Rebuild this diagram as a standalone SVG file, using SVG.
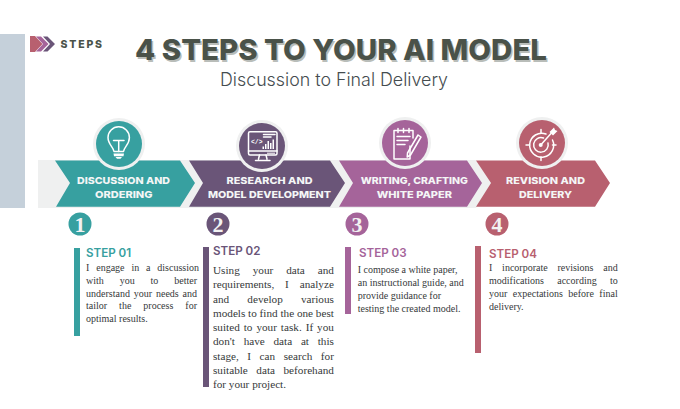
<svg xmlns="http://www.w3.org/2000/svg" width="680" height="409" viewBox="0 0 680 409">
  <style>
    .body { font-family: "Liberation Serif", "Times New Roman", serif; fill: #36393a; font-size: 10px; }
    .big { font-size: 11.2px; }
    .head { font-family: Inter, "Liberation Sans", sans-serif; font-weight: 600; font-size: 11.6px; }
    .band { font-family: Inter, "Liberation Sans", sans-serif; font-weight: 800; font-size: 9.6px; fill: #f4f6f6; }
    .num { font-family: "Liberation Serif", serif; font-weight: 700; font-size: 22px; fill: #f2f2f2; text-anchor: middle; }
    .icon { fill: none; stroke: #fff; stroke-width: 1.5; stroke-linecap: round; stroke-linejoin: round; }
    .halo { fill: #eff0f0; }
    .teal { fill: #37a0a0; } .plum { fill: #6a5578; } .mauve { fill: #a5649a; } .rose { fill: #b8606f; }
  </style>

  <!-- side panel and band backing -->
  <rect x="0" y="34" width="25" height="174" fill="#c5d0da"/>
  <polygon points="38,160 476,160 491,183 476,208 38,208" fill="#eff0f0"/>

  <!-- brand mark -->
  <g id="brand">
    <path d="M30 36 L35 36 L42.500 44 L35 52 L30 52 L30 36 Z" class="rose"/>
    <path d="M36 36.500 L41 36.500 L48.500 44 L41 51.500 L36 51.500 L43 44 Z" class="mauve"/>
    <path d="M43 36.500 L47.500 36.500 L55 44 L47.500 51.500 L43 51.500 L50 44 Z" class="plum"/>
    <text x="60.500" y="47.500" font-family="Inter, 'Liberation Sans', sans-serif" font-weight="800" font-size="10.500" fill="#4a5249" textLength="41.500">STEPS</text>
  </g>

  <!-- heading -->
  <g id="title" font-family="Inter, 'Liberation Sans', sans-serif">
    <text x="136.500" y="61.500" font-weight="800" font-size="28.600" fill="#b9bdb9" textLength="412" lengthAdjust="spacingAndGlyphs">4 STEPS TO YOUR AI MODEL</text>
    <text x="135" y="60" font-weight="800" font-size="28.600" fill="#4a5249" textLength="412" lengthAdjust="spacingAndGlyphs">4 STEPS TO YOUR AI MODEL</text>
    <text x="220" y="85.500" font-size="18" font-weight="300" fill="#454c4f" textLength="228" lengthAdjust="spacingAndGlyphs">Discussion to Final Delivery</text>
  </g>

  <!-- step 1 -->
  <g id="step-1">
    <polygon class="teal" points="55,160.500 180,160.500 195,183 180,206.700 56,206.700 70,183"/>
    <circle class="halo" cx="119" cy="144" r="26"/>
    <circle class="teal" cx="119" cy="144" r="23"/>
    <path class="icon" d="M114 151.500 C113.500 147 108 144.500 108 137.500 A10.700 10.700 0 0 1 129.400 137.500 C129.400 144.500 124 147 123.500 151.500 Z"/>
    <path class="icon" d="M113.500 140.500 H124 M118.700 140.500 V151.500"/>
    <path d="M113.500 153.500 H124 L123.500 156.300 H114 Z M115.500 157 H122 L120.500 158.800 H117 Z" fill="#fff"/>
    <text class="band" x="77" y="184" textLength="93" lengthAdjust="spacingAndGlyphs">DISCUSSION AND</text>
    <text class="band" x="95" y="198" textLength="57.500" lengthAdjust="spacingAndGlyphs">ORDERING</text>
    <circle class="teal" cx="80" cy="224" r="11.500"/>
    <text class="num" x="80" y="231.500">1</text>
    <rect class="teal" x="74" y="248" width="6" height="88"/>
    <text class="head" x="86" y="256.500" fill="#37a0a0">STEP 01</text>
    <text class="body" x="86" y="271" word-spacing="4.370">I engage in a discussion</text>
    <text class="body" x="86" y="283.800" word-spacing="13.400">with you to better</text>
    <text class="body" x="86" y="296.700" word-spacing="1.370">understand your needs and</text>
    <text class="body" x="86" y="309.400" word-spacing="9.500">tailor the process for</text>
    <text class="body" x="86" y="322.200">optimal results.</text>
  </g>

  <!-- step 2 -->
  <g id="step-2">
    <polygon class="plum" points="189,160.500 330,160.500 345,183 330,206.700 189,206.700 203,183"/>
    <circle class="halo" cx="262" cy="146" r="26"/>
    <circle class="plum" cx="262" cy="146" r="23"/>
    <rect class="icon" x="248.500" y="131.700" width="28.500" height="23.300" rx="1.500"/>
    <path class="icon" d="M248.500 151 H277 M259.500 155 L258.500 159 M266 155 L267 159 M255.500 160.500 H270"/>
    <text x="251" y="143.500" font-family="Liberation Mono, monospace" font-weight="700" font-size="6.400" fill="#fff">&lt;/&gt;</text>
    <path class="icon" stroke-width="1" d="M263.500 134.500 H275 M263.500 137 H271"/>
    <path fill="#fff" d="M262.500 149 V146.500 H264 V149 Z M265 149 V144 H266.500 V149 Z M267.500 149 V141 H269 V149 Z M270 149 V143 H271.500 V149 Z M272.500 149 V139.500 H274 V149 Z"/>
    <path fill="#fff" d="M267 152.700 h8 v1 h-8 Z"/>
    <text class="band" x="226.500" y="184" textLength="86" lengthAdjust="spacingAndGlyphs">RESEARCH AND</text>
    <text class="band" x="208" y="198" textLength="123" lengthAdjust="spacingAndGlyphs">MODEL DEVELOPMENT</text>
    <circle class="plum" cx="218" cy="224" r="11.500"/>
    <text class="num" x="218" y="231.500">2</text>
    <rect class="plum" x="203" y="247" width="6" height="140"/>
    <text class="head" x="213" y="255" fill="#6a5578">STEP 02</text>
    <text class="body big" x="213" y="274.300" word-spacing="10.170">Using your data and</text>
    <text class="body big" x="213" y="288.300" word-spacing="8.100">requirements, I analyze</text>
    <text class="body big" x="213" y="302.700" word-spacing="15.400">and develop various</text>
    <text class="body big" x="213" y="317">models to find the one best</text>
    <text class="body big" x="213" y="331" word-spacing="1.180">suited to your task. If you</text>
    <text class="body big" x="213" y="345" word-spacing="5.950">don't have data at this</text>
    <text class="body big" x="213" y="359.700" word-spacing="5.760">stage, I can search for</text>
    <text class="body big" x="213" y="373.700" word-spacing="5.750">suitable data beforehand</text>
    <text class="body big" x="213" y="388">for your project.</text>
  </g>

  <!-- step 3 -->
  <g id="step-3">
    <polygon class="mauve" points="339,160.500 467,160.500 482,183 467,206.700 339,206.700 353,183"/>
    <circle class="halo" cx="405" cy="143" r="26"/>
    <circle class="mauve" cx="405" cy="143" r="23"/>
    <path class="icon" d="M410 146 V159 H394 V130.500 H413 V138"/>
    <path class="icon" d="M398 128.500 V132.500 M403.500 128.500 V132.500 M409 128.500 V132.500"/>
    <path class="icon" stroke-width="1.200" d="M397 136.500 H410 M397 140.500 H408 M397 144.500 H405"/>
    <path class="icon" d="M407.500 153 L418 135 L421 137 L410.500 155 L407.200 157 Z"/>
    <text class="band" x="360.700" y="184" textLength="107.300" lengthAdjust="spacingAndGlyphs">WRITING, CRAFTING</text>
    <text class="band" x="376.700" y="198" textLength="75.300" lengthAdjust="spacingAndGlyphs">WHITE PAPER</text>
    <circle class="mauve" cx="357" cy="224" r="11.500"/>
    <text class="num" x="357" y="231.500">3</text>
    <rect class="mauve" x="345" y="247" width="6" height="67"/>
    <text class="head" x="359" y="257" fill="#a5649a">STEP 03</text>
    <text class="body" x="357.700" y="273.300">I compose a white paper,</text>
    <text class="body" x="357.700" y="286">an instructional guide, and</text>
    <text class="body" x="357.700" y="299">provide guidance for</text>
    <text class="body" x="357.700" y="312">testing the created model.</text>
  </g>

  <!-- step 4 -->
  <g id="step-4">
    <polygon class="rose" points="476,160.500 595,160.500 610,183 595,206.700 476,206.700 491,183"/>
    <circle class="halo" cx="542" cy="143" r="26"/>
    <circle class="rose" cx="542" cy="143" r="23"/>
    <path class="icon" stroke-width="1" d="M552.500 140 A12 12 0 1 1 546 134"/>
    <path class="icon" stroke-width="1" d="M541 129.500 V133 M541 157 V160.500 M526 145 H529.500 M552.500 145 H556"/>
    <path class="icon" stroke-width="2.600" d="M548 143 A7.300 7.300 0 1 1 543.500 138"/>
    <circle cx="540.700" cy="145" r="2" fill="#fff"/>
    <path class="icon" stroke-width="1.400" d="M540.700 145 L551 133.500"/>
    <path d="M549.500 132 L554 127.500 L555 130 L557.500 131 L553 135.500 Z" fill="#fff"/>
    <text class="band" x="506" y="184" textLength="79" lengthAdjust="spacingAndGlyphs">REVISION AND</text>
    <text class="band" x="519" y="198" textLength="53" lengthAdjust="spacingAndGlyphs">DELIVERY</text>
    <circle class="rose" cx="497" cy="224" r="11.500"/>
    <text class="num" x="497" y="231.500">4</text>
    <rect class="rose" x="475" y="246" width="6" height="107"/>
    <text class="head" x="489" y="258" fill="#b8606f">STEP 04</text>
    <text class="body" x="489" y="271" word-spacing="7.270">I incorporate revisions and</text>
    <text class="body" x="489" y="284.300" word-spacing="10.750">modifications according to</text>
    <text class="body" x="489" y="297.300" word-spacing="3">your expectations before final</text>
    <text class="body" x="489" y="310">delivery.</text>
  </g>
</svg>
